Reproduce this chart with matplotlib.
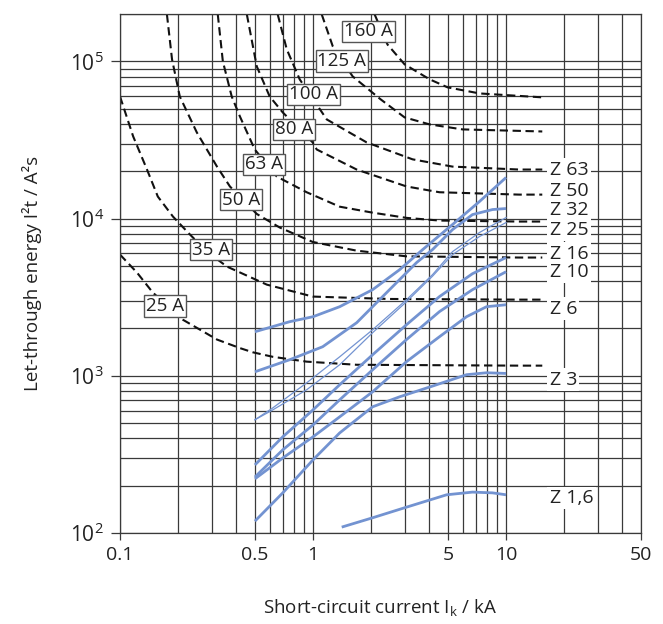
import matplotlib
matplotlib.use('Agg')
import matplotlib.pyplot as plt
from matplotlib.ticker import FixedLocator, FixedFormatter, NullFormatter

plt.rcParams['font.family'] = ['Open Sans', 'DejaVu Sans']
plt.rcParams['mathtext.fontset'] = 'custom'
plt.rcParams['mathtext.rm'] = 'Open Sans'
plt.rcParams['mathtext.it'] = 'Open Sans:italic'

# --- fuse let-through curves (dashed), x in kA, y in A^2s ---
fuse_25_x = [0.100, 0.1225, 0.148, 0.212, 0.318, 0.418, 0.488, 0.619, 0.927, 1.68, 11.7, 15.4]
fuse_25_y = [5900, 4530, 3380, 2270, 1700, 1500, 1410, 1320, 1230, 1175, 1160, 1160]
fuse_35_x = [0.100, 0.117, 0.138, 0.157, 0.188, 0.225, 0.282, 0.358, 0.576, 0.996, 1.374, 2.49, 11.7, 15.4]
fuse_35_y = [59800, 33300, 20500, 13800, 10300, 8150, 6160, 4950, 3800, 3190, 3150, 3080, 3050, 3050]
fuse_50_x = [0.175, 0.186, 0.204, 0.250, 0.318, 0.371, 0.511, 0.672, 0.996, 1.68, 3.05, 11.7, 15.4]
fuse_50_y = [199000, 103000, 59800, 35300, 21400, 16000, 10700, 8770, 7100, 6250, 5750, 5650, 5650]
fuse_63_x = [0.321, 0.341, 0.379, 0.418, 0.499, 0.649, 0.927, 1.374, 2.036, 3.05, 4.52, 11.7, 15.4]
fuse_63_y = [199000, 100000, 59800, 44600, 27500, 18500, 14700, 11900, 10900, 10100, 9710, 9570, 9570]
fuse_80_x = [0.454, 0.511, 0.596, 0.697, 0.996, 1.045, 1.683, 3.05, 4.52, 11.7, 15.4]
fuse_80_y = [199000, 92900, 59800, 47300, 30500, 27500, 20500, 16000, 14700, 14200, 14200]
fuse_100_x = [0.656, 0.731, 0.853, 1.178, 1.896, 3.28, 5.28, 11.7, 15.4]
fuse_100_y = [199000, 119200, 76800, 42700, 30500, 23800, 21400, 20500, 20500]
fuse_125_x = [1.109, 1.265, 1.604, 2.24, 2.98, 4.02, 5.95, 15.4]
fuse_125_y = [199000, 124700, 80200, 57300, 44000, 39700, 36900, 35800]
fuse_160_x = [2.084, 2.43, 2.98, 4.02, 4.98, 7.28, 15.4]
fuse_160_y = [199000, 128000, 95700, 76800, 68300, 62500, 59000]
fuse_labels = ['25 A', '35 A', '50 A', '63 A', '80 A', '100 A', '125 A', '160 A']
fuse_label_x = [0.171, 0.296, 0.423, 0.556, 0.794, 1.01, 1.41, 1.94]
fuse_label_y = [2790, 6350, 13200, 22100, 36900, 61600, 100000, 155000]

# --- MCB Z characteristic curves (blue) ---
z63_x = [0.5, 0.757, 1.0, 1.374, 2.036, 2.81, 3.70, 5.28, 7.28, 10]
z63_y = [1906, 2208, 2375, 2750, 3530, 4730, 6350, 9160, 12830, 18250]
z50_x = [0.5, 0.757, 1.122, 1.683, 2.405, 3.44, 4.16, 5.28, 6.70, 8.51, 10]
z50_y = [1060, 1265, 1530, 2175, 3380, 5250, 6350, 8510, 10600, 11410, 11580]
z32_x = [0.5, 0.619, 0.927, 1.374, 2.036, 3.05, 4.16, 5.28, 7.28, 10]
z32_y = [525, 625, 902, 1320, 1963, 3050, 4400, 6160, 8150, 10150]
z25_x = [0.5, 0.619, 0.927, 1.374, 2.036, 3.05, 4.16, 5.28, 7.28, 10]
z25_y = [525, 607, 815, 1175, 1880, 2960, 4300, 5900, 7680, 9430]
z16_x = [0.5, 0.697, 1.0, 1.374, 2.036, 3.05, 4.52, 6.70, 10]
z16_y = [271, 409, 607, 877, 1361, 2113, 3190, 4460, 5650]
z10_x = [0.5, 0.697, 1.0, 1.374, 2.036, 3.05, 4.52, 6.70, 10]
z10_y = [227, 338, 487, 703, 1092, 1700, 2560, 3530, 4590]
z6_x = [0.5, 0.697, 1.0, 1.374, 2.036, 3.05, 4.52, 6.24, 7.92, 10]
z6_y = [221, 300, 409, 548, 791, 1230, 1772, 2375, 2750, 2830]
z3_x = [0.5, 0.697, 1.0, 1.374, 2.036, 2.81, 4.16, 6.24, 7.92, 10]
z3_y = [119, 180, 292, 433, 635, 735, 860, 1016, 1045, 1035]
z1_6_x = [1.408, 2.036, 3.05, 4.92, 6.70, 8.51, 10]
z1_6_y = [109, 125, 146, 175, 182, 180, 175]
z_labels = ['Z 63', 'Z 50', 'Z 32', 'Z 25', 'Z 16', 'Z 10', 'Z 6', 'Z 3', 'Z 1,6']
z_label_y = [20500, 14900, 11400, 8510, 5990, 4590, 2670, 944, 167]

x_ticks = [0.1, 0.5, 1, 5, 10, 50]
x_tick_labels = ['0.1', '0.5', '1', '5', '10', '50']
y_ticks = [1e2, 1e3, 1e4, 1e5]
y_tick_labels = [r'$\mathregular{10^2}$', r'$\mathregular{10^3}$',
                 r'$\mathregular{10^4}$', r'$\mathregular{10^5}$']

fig = plt.figure(figsize=(6.63, 6.24), dpi=100)
ax = fig.add_axes([120/663, 1 - 533/624, (641 - 120)/663, (533 - 14)/624])
ax.set_xscale('log')
ax.set_yscale('log')
ax.set_xlim(0.1, 50)
ax.set_ylim(100, 2e5)

grid_col = '#3a3a3a'
x_grid = [m * 10.0**e for e in (-1, 0, 1) for m in range(1, 10) if m * 10.0**e <= 50]
y_grid = [m * 10.0**e for e in (2, 3, 4, 5) for m in range(1, 10) if m * 10.0**e <= 2e5]
ax.xaxis.set_major_locator(FixedLocator(x_ticks))
ax.xaxis.set_major_formatter(FixedFormatter(x_tick_labels))
ax.xaxis.set_minor_locator(FixedLocator(x_grid))
ax.xaxis.set_minor_formatter(NullFormatter())
ax.yaxis.set_major_locator(FixedLocator(y_ticks))
ax.yaxis.set_major_formatter(FixedFormatter(y_tick_labels))
ax.yaxis.set_minor_locator(FixedLocator(y_grid))
ax.yaxis.set_minor_formatter(NullFormatter())
ax.grid(which='both', color=grid_col, lw=0.9, zorder=0)
ax.set_axisbelow(True)
for s in ax.spines.values():
    s.set_color(grid_col)
    s.set_linewidth(0.9)
ax.tick_params(which='minor', length=0)
ax.tick_params(axis='x', which='major', length=5, width=0.9, color=grid_col,
               labelsize=14, pad=4, labelcolor='#222222')
ax.tick_params(axis='y', which='major', length=6.5, width=0.9, color=grid_col,
               labelsize=15, pad=5, labelcolor='#222222')

dash = (0, (4.0, 2.2))
fuse_x = [fuse_25_x, fuse_35_x, fuse_50_x, fuse_63_x, fuse_80_x, fuse_100_x, fuse_125_x, fuse_160_x]
fuse_y = [fuse_25_y, fuse_35_y, fuse_50_y, fuse_63_y, fuse_80_y, fuse_100_y, fuse_125_y, fuse_160_y]
for fx, fy in zip(fuse_x, fuse_y):
    ax.plot(fx, fy, color='#111111', lw=1.5, linestyle=dash, zorder=2)

blue = '#7393d1'
thick = [(z63_x, z63_y), (z50_x, z50_y), (z16_x, z16_y), (z10_x, z10_y),
         (z6_x, z6_y), (z3_x, z3_y), (z1_6_x, z1_6_y)]
for bx, by in thick:
    ax.plot(bx, by, color=blue, lw=2.0, zorder=3, solid_capstyle='butt')
for bx, by in [(z32_x, z32_y), (z25_x, z25_y)]:
    ax.plot(bx, by, color=blue, lw=0.9, zorder=3)

for lab, lx, ly in zip(fuse_labels, fuse_label_x, fuse_label_y):
    ax.text(lx, ly, lab, fontsize=13.5, ha='center', va='center', color='#222222', zorder=6,
            bbox=dict(boxstyle='square,pad=0.1', fc='white', ec='#555555', lw=1.0))

for lab, ly in zip(z_labels, z_label_y):
    ax.text(16.8, ly, lab, fontsize=14, ha='left', va='center', color='#222222', zorder=6,
            bbox=dict(boxstyle='square,pad=0.12', fc='white', ec='none'))

ax.set_xlabel('Short-circuit current $\\mathregular{I_k}$ / kA', fontsize=13.5,
              labelpad=24, color='#222222')
ax.set_ylabel('Let-through energy I²t / A²s', fontsize=13.5, labelpad=20, color='#222222')

fig.savefig('out.png', dpi=100)
